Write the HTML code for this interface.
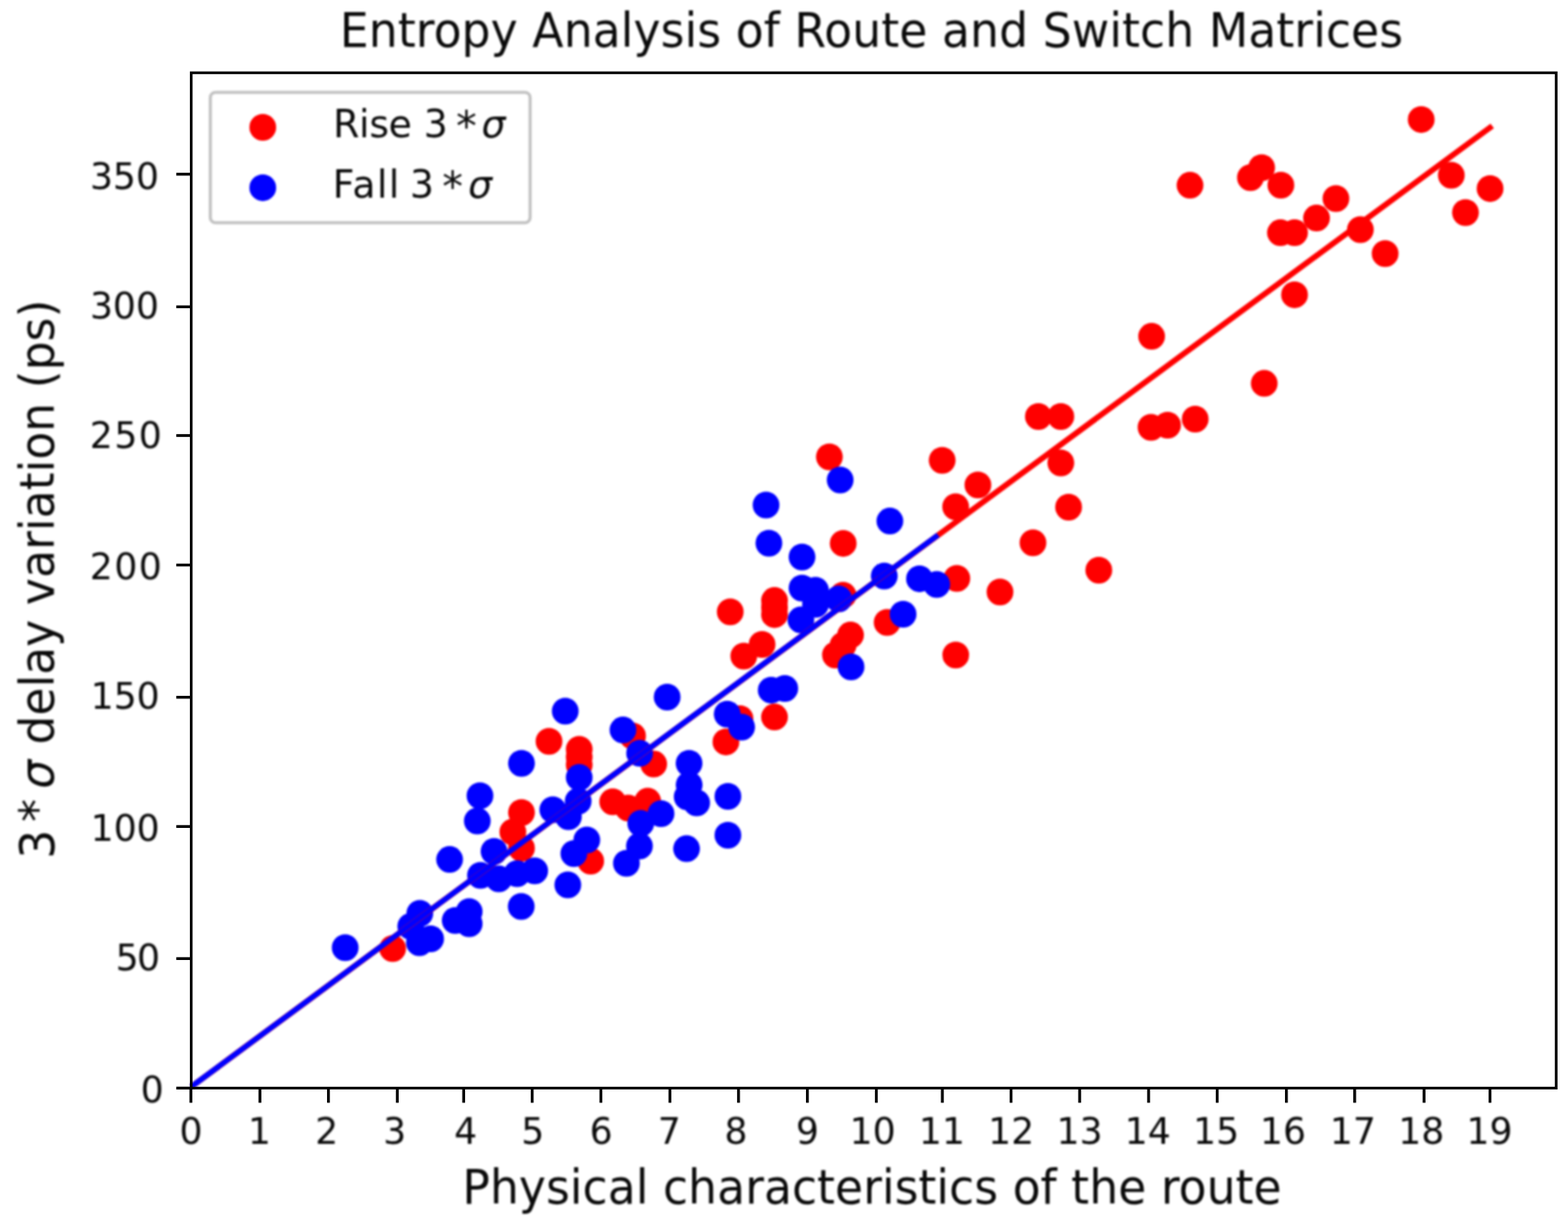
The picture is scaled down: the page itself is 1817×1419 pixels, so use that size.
<!DOCTYPE html>
<html lang="en"><head><meta charset="utf-8"><title>Entropy Analysis of Route and Switch Matrices</title>
<style>html,body{margin:0;padding:0;background:#fff}body{width:1817px;height:1419px}svg{display:block}text{font-family:"DejaVu Sans","Liberation Sans",sans-serif;fill:#0a0a0a}.i{font-style:italic}</style></head><body>
<svg width="1817" height="1419" viewBox="0 0 1817 1419">
<rect width="1817" height="1419" fill="#fff"/>
<defs><filter id="soft" x="0" y="0" width="1817" height="1419" filterUnits="userSpaceOnUse" color-interpolation-filters="sRGB"><feGaussianBlur stdDeviation="0.9"/></filter></defs>
<g filter="url(#soft)">
<rect width="1817" height="1419" fill="#fff"/>
<g id="plot">
<g fill="#ff0000">
<circle cx="455.0" cy="1098.7" r="15.5"/>
<circle cx="604.3" cy="941.2" r="15.5"/>
<circle cx="594.3" cy="963.7" r="15.5"/>
<circle cx="604.3" cy="982.5" r="15.5"/>
<circle cx="636.2" cy="858.7" r="15.5"/>
<circle cx="671.2" cy="868.0" r="15.5"/>
<circle cx="671.2" cy="877.0" r="15.5"/>
<circle cx="671.2" cy="886.0" r="15.5"/>
<circle cx="684.5" cy="997.5" r="15.5"/>
<circle cx="710.0" cy="928.7" r="15.5"/>
<circle cx="750.6" cy="928.1" r="15.5"/>
<circle cx="728.0" cy="936.0" r="15.5"/>
<circle cx="733.0" cy="852.5" r="15.5"/>
<circle cx="757.5" cy="885.0" r="15.5"/>
<circle cx="841.2" cy="859.4" r="15.5"/>
<circle cx="857.5" cy="832.5" r="15.5"/>
<circle cx="897.5" cy="830.6" r="15.5"/>
<circle cx="861.9" cy="760.0" r="15.5"/>
<circle cx="883.1" cy="746.5" r="15.5"/>
<circle cx="846.2" cy="708.7" r="15.5"/>
<circle cx="897.5" cy="695.6" r="15.5"/>
<circle cx="897.5" cy="703.7" r="15.5"/>
<circle cx="897.5" cy="711.9" r="15.5"/>
<circle cx="976.9" cy="689.4" r="15.5"/>
<circle cx="977.1" cy="629.4" r="15.5"/>
<circle cx="961.1" cy="529.2" r="15.5"/>
<circle cx="985.6" cy="735.6" r="15.5"/>
<circle cx="976.9" cy="747.5" r="15.5"/>
<circle cx="968.1" cy="758.7" r="15.5"/>
<circle cx="1028.0" cy="721.0" r="15.5"/>
<circle cx="1091.8" cy="533.2" r="15.5"/>
<circle cx="1133.2" cy="561.8" r="15.5"/>
<circle cx="1107.4" cy="587.0" r="15.5"/>
<circle cx="1108.8" cy="670.0" r="15.5"/>
<circle cx="1107.5" cy="758.8" r="15.5"/>
<circle cx="1158.8" cy="685.8" r="15.5"/>
<circle cx="1197.0" cy="628.8" r="15.5"/>
<circle cx="1203.3" cy="482.5" r="15.5"/>
<circle cx="1229.3" cy="482.5" r="15.5"/>
<circle cx="1229.3" cy="536.3" r="15.5"/>
<circle cx="1238.3" cy="587.5" r="15.5"/>
<circle cx="1273.3" cy="660.5" r="15.5"/>
<circle cx="1333.8" cy="495.0" r="15.5"/>
<circle cx="1353.0" cy="492.5" r="15.5"/>
<circle cx="1385.0" cy="485.5" r="15.5"/>
<circle cx="1334.5" cy="389.6" r="15.5"/>
<circle cx="1465.0" cy="444.1" r="15.5"/>
<circle cx="1379.0" cy="214.6" r="15.5"/>
<circle cx="1449.0" cy="205.8" r="15.5"/>
<circle cx="1462.0" cy="194.2" r="15.5"/>
<circle cx="1484.3" cy="214.5" r="15.5"/>
<circle cx="1548.1" cy="230.0" r="15.5"/>
<circle cx="1525.6" cy="252.6" r="15.5"/>
<circle cx="1483.8" cy="269.6" r="15.5"/>
<circle cx="1500.1" cy="269.6" r="15.5"/>
<circle cx="1576.4" cy="266.0" r="15.5"/>
<circle cx="1605.1" cy="293.8" r="15.5"/>
<circle cx="1681.8" cy="203.0" r="15.5"/>
<circle cx="1726.7" cy="218.4" r="15.5"/>
<circle cx="1698.2" cy="246.3" r="15.5"/>
<circle cx="1500.1" cy="341.4" r="15.5"/>
<circle cx="1646.9" cy="138.4" r="15.5"/>
</g><g fill="#0000ff">
<circle cx="400.0" cy="1097.8" r="15.5"/>
<circle cx="486.5" cy="1058.0" r="15.5"/>
<circle cx="476.0" cy="1073.0" r="15.5"/>
<circle cx="486.0" cy="1092.0" r="15.5"/>
<circle cx="499.0" cy="1087.5" r="15.5"/>
<circle cx="521.0" cy="995.6" r="15.5"/>
<circle cx="543.7" cy="1056.0" r="15.5"/>
<circle cx="543.7" cy="1070.0" r="15.5"/>
<circle cx="527.5" cy="1066.2" r="15.5"/>
<circle cx="553.1" cy="951.0" r="15.5"/>
<circle cx="556.2" cy="921.8" r="15.5"/>
<circle cx="572.5" cy="986.2" r="15.5"/>
<circle cx="556.8" cy="1014.0" r="15.5"/>
<circle cx="578.0" cy="1018.0" r="15.5"/>
<circle cx="599.2" cy="1012.0" r="15.5"/>
<circle cx="619.6" cy="1008.7" r="15.5"/>
<circle cx="604.0" cy="1050.0" r="15.5"/>
<circle cx="658.0" cy="1025.0" r="15.5"/>
<circle cx="604.3" cy="884.3" r="15.5"/>
<circle cx="655.0" cy="823.7" r="15.5"/>
<circle cx="671.2" cy="900.6" r="15.5"/>
<circle cx="670.0" cy="928.0" r="15.5"/>
<circle cx="640.6" cy="938.0" r="15.5"/>
<circle cx="658.7" cy="946.0" r="15.5"/>
<circle cx="680.0" cy="973.0" r="15.5"/>
<circle cx="665.0" cy="988.7" r="15.5"/>
<circle cx="721.9" cy="845.6" r="15.5"/>
<circle cx="741.2" cy="872.5" r="15.5"/>
<circle cx="766.0" cy="942.5" r="15.5"/>
<circle cx="742.5" cy="953.7" r="15.5"/>
<circle cx="741.0" cy="980.0" r="15.5"/>
<circle cx="725.9" cy="1000.0" r="15.5"/>
<circle cx="773.1" cy="807.5" r="15.5"/>
<circle cx="798.5" cy="884.3" r="15.5"/>
<circle cx="798.6" cy="909.3" r="15.5"/>
<circle cx="796.3" cy="923.0" r="15.5"/>
<circle cx="807.3" cy="930.0" r="15.5"/>
<circle cx="795.6" cy="983.1" r="15.5"/>
<circle cx="843.5" cy="922.5" r="15.5"/>
<circle cx="843.5" cy="967.5" r="15.5"/>
<circle cx="842.7" cy="827.2" r="15.5"/>
<circle cx="859.4" cy="842.2" r="15.5"/>
<circle cx="893.7" cy="799.4" r="15.5"/>
<circle cx="909.4" cy="797.5" r="15.5"/>
<circle cx="887.7" cy="585.0" r="15.5"/>
<circle cx="891.0" cy="629.2" r="15.5"/>
<circle cx="929.4" cy="645.2" r="15.5"/>
<circle cx="929.4" cy="681.2" r="15.5"/>
<circle cx="945.0" cy="683.7" r="15.5"/>
<circle cx="945.0" cy="700.0" r="15.5"/>
<circle cx="928.1" cy="718.1" r="15.5"/>
<circle cx="971.9" cy="693.7" r="15.5"/>
<circle cx="973.6" cy="556.0" r="15.5"/>
<circle cx="1031.2" cy="603.6" r="15.5"/>
<circle cx="1024.7" cy="667.2" r="15.5"/>
<circle cx="1046.5" cy="711.5" r="15.5"/>
<circle cx="1065.5" cy="670.4" r="15.5"/>
<circle cx="1085.5" cy="677.0" r="15.5"/>
<circle cx="986.2" cy="772.5" r="15.5"/>
</g>
<line x1="221.6" y1="1258.9" x2="1729.2" y2="145.9" stroke="#ff0000" stroke-width="6.7" stroke-linecap="butt"/>
<line x1="221.6" y1="1258.9" x2="1087.0" y2="619.8" stroke="#0000ff" stroke-width="6.3" stroke-linecap="butt"/>
</g>
<g font-size="42.0" text-anchor="middle" stroke="none" style="stroke:none">
<text x="221.3" y="1325.0">0</text>
<text x="300.5" y="1325.0">1</text>
<text x="378.5" y="1325.0">2</text>
<text x="457.4" y="1325.0">3</text>
<text x="539.6" y="1325.0">4</text>
<text x="617.3" y="1325.0">5</text>
<text x="696.5" y="1325.0">6</text>
<text x="775.7" y="1325.0">7</text>
<text x="852.9" y="1325.0">8</text>
<text x="935.6" y="1325.0">9</text>
<text x="1011.3" y="1325.0">10</text>
<text x="1091.5" y="1325.0">11</text>
<text x="1171.7" y="1325.0">12</text>
<text x="1250.9" y="1325.0">13</text>
<text x="1330.1" y="1325.0">14</text>
<text x="1409.3" y="1325.0">15</text>
<text x="1486.8" y="1325.0">16</text>
<text x="1567.7" y="1325.0">17</text>
<text x="1646.9" y="1325.0">18</text>
<text x="1726.1" y="1325.0">19</text>
</g>
<g font-size="42.0" text-anchor="end">
<text x="189.7" y="1277.0">0</text>
<text x="183.4" y="1124.0" letter-spacing="-2.0">50</text>
<text x="185.1" y="974.0">100</text>
<text x="185.1" y="821.3">150</text>
<text x="189.3" y="671.3" letter-spacing="1.7">200</text>
<text x="189.3" y="518.5" letter-spacing="1.7">250</text>
<text x="184.3" y="368.8">300</text>
<text x="184.3" y="219.0">350</text>
</g>
<text transform="translate(1009.8,53.7) scale(1,1.045)" font-size="53.1" text-anchor="middle">Entropy Analysis of Route and Switch Matrices</text>
<text transform="translate(1010.5,1394.4) scale(1,1.030)" font-size="53.0" text-anchor="middle">Physical characteristics of the route</text>
<text transform="translate(61.6,994.7) rotate(-90) scale(1,1.030)" font-size="53.0"><tspan x="0">3</tspan> <tspan x="42.8">*</tspan> <tspan x="81" class="i">&#963;</tspan> <tspan x="132.1">delay variation (ps)</tspan></text>
<rect x="243.7" y="107" width="370.6" height="151" rx="6" ry="6" fill="#fff" fill-opacity="0.8" stroke="#c2c2c2" stroke-width="3.6"/>
<circle cx="304.5" cy="147.5" r="15.5" fill="#ff0000"/>
<circle cx="304.5" cy="217.4" r="15.5" fill="#0000ff"/>
<text y="158.7" font-size="43.9"><tspan x="386" letter-spacing="-0.4">Rise</tspan> <tspan x="491">3</tspan> <tspan x="528.5" dy="4.6" font-size="48">*</tspan> <tspan x="558" dy="-4.6" class="i">&#963;</tspan></text>
<text y="228.7" font-size="43.9"><tspan x="385.5" letter-spacing="1.6">Fall</tspan> <tspan x="475">3</tspan> <tspan x="512.5" dy="4.6" font-size="48">*</tspan> <tspan x="542.5" dy="-4.6" class="i">&#963;</tspan></text>
</g>
<g stroke="#000" stroke-width="3.3">
<line x1="221.2" y1="1260.4" x2="221.2" y2="1277.4"/>
<line x1="301.2" y1="1260.4" x2="301.2" y2="1277.4"/>
<line x1="380.6" y1="1260.4" x2="380.6" y2="1277.4"/>
<line x1="460.4" y1="1260.4" x2="460.4" y2="1277.4"/>
<line x1="537.3" y1="1260.4" x2="537.3" y2="1277.4"/>
<line x1="616.7" y1="1260.4" x2="616.7" y2="1277.4"/>
<line x1="696.3" y1="1260.4" x2="696.3" y2="1277.4"/>
<line x1="776.3" y1="1260.4" x2="776.3" y2="1277.4"/>
<line x1="855.8" y1="1260.4" x2="855.8" y2="1277.4"/>
<line x1="935.6" y1="1260.4" x2="935.6" y2="1277.4"/>
<line x1="1015.5" y1="1260.4" x2="1015.5" y2="1277.4"/>
<line x1="1092.0" y1="1260.4" x2="1092.0" y2="1277.4"/>
<line x1="1171.6" y1="1260.4" x2="1171.6" y2="1277.4"/>
<line x1="1251.1" y1="1260.4" x2="1251.1" y2="1277.4"/>
<line x1="1331.0" y1="1260.4" x2="1331.0" y2="1277.4"/>
<line x1="1410.5" y1="1260.4" x2="1410.5" y2="1277.4"/>
<line x1="1490.7" y1="1260.4" x2="1490.7" y2="1277.4"/>
<line x1="1569.8" y1="1260.4" x2="1569.8" y2="1277.4"/>
<line x1="1650.2" y1="1260.4" x2="1650.2" y2="1277.4"/>
<line x1="1726.6" y1="1260.4" x2="1726.6" y2="1277.4"/>
<line x1="204.3" y1="1260.4" x2="221.6" y2="1260.4"/>
<line x1="204.3" y1="1110.4" x2="221.6" y2="1110.4"/>
<line x1="204.3" y1="957.4" x2="221.6" y2="957.4"/>
<line x1="204.3" y1="807.7" x2="221.6" y2="807.7"/>
<line x1="204.3" y1="654.5" x2="221.6" y2="654.5"/>
<line x1="204.3" y1="504.5" x2="221.6" y2="504.5"/>
<line x1="204.3" y1="355.4" x2="221.6" y2="355.4"/>
<line x1="204.3" y1="201.8" x2="221.6" y2="201.8"/>
</g>
<rect x="221.6" y="84.3" width="1581.7" height="1176.1" fill="none" stroke="#000" stroke-width="3.1"/>
</svg></body></html>
